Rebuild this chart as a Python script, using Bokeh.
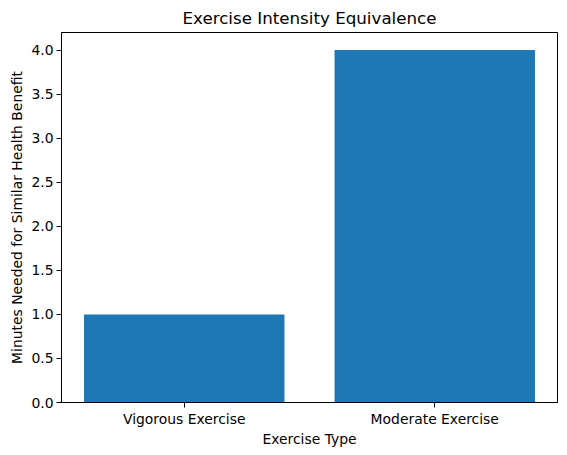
from bokeh.plotting import figure
from bokeh.models import ColumnDataSource, Range1d, FixedTicker, NumeralTickFormatter
from bokeh.embed import file_html
from bokeh.resources import INLINE

categories = ["Vigorous Exercise", "Moderate Exercise"]
minutes = [1.0, 4.0]
y_ticks = [0.0, 0.5, 1.0, 1.5, 2.0, 2.5, 3.0, 3.5, 4.0]

positions = list(range(len(categories)))
source = ColumnDataSource(data=dict(x=positions, top=minutes, name=categories))

FONT = "DejaVu Sans"

p = figure(frame_width=496, frame_height=370, output_backend="svg", toolbar_location=None,
           x_range=Range1d(-0.49, 1.49), y_range=Range1d(0, 4.2),
           title="Exercise Intensity Equivalence",
           min_border_left=61, min_border_right=2, min_border_top=24, min_border_bottom=45)

p.vbar(x="x", top="top", width=0.8, source=source, color="#1f77b4", line_color=None)

p.title.text_font = FONT
p.title.text_font_size = "16.7px"
p.title.text_font_style = "normal"
p.title.align = "center"
p.title.text_color = "black"

p.xgrid.visible = False
p.ygrid.visible = False
p.outline_line_color = "black"
p.outline_line_width = 1
p.background_fill_color = "white"
p.border_fill_color = "white"

for ax in (p.xaxis[0], p.yaxis[0]):
    ax.axis_line_color = "black"
    ax.major_tick_line_color = "black"
    ax.major_tick_out = 5
    ax.major_tick_in = 0
    ax.minor_tick_line_color = None
    ax.major_label_text_font = FONT
    ax.major_label_text_font_size = "13.9px"
    ax.major_label_text_color = "black"
    ax.major_label_standoff = 3
    ax.axis_label_text_font = FONT
    ax.axis_label_text_font_size = "13.9px"
    ax.axis_label_text_font_style = "normal"
    ax.axis_label_text_color = "black"
    ax.axis_label_standoff = 3

p.xaxis.axis_label_standoff = 1
p.xaxis.ticker = FixedTicker(ticks=positions)
p.xaxis.major_label_overrides = {i: c for i, c in enumerate(categories)}
p.xaxis.axis_label = "Exercise Type"
p.yaxis.ticker = FixedTicker(ticks=y_ticks)
p.yaxis.formatter = NumeralTickFormatter(format="0.0")
p.yaxis.axis_label = "Minutes Needed for Similar Health Benefit"

open("out.html", "w").write(file_html(p, INLINE))
